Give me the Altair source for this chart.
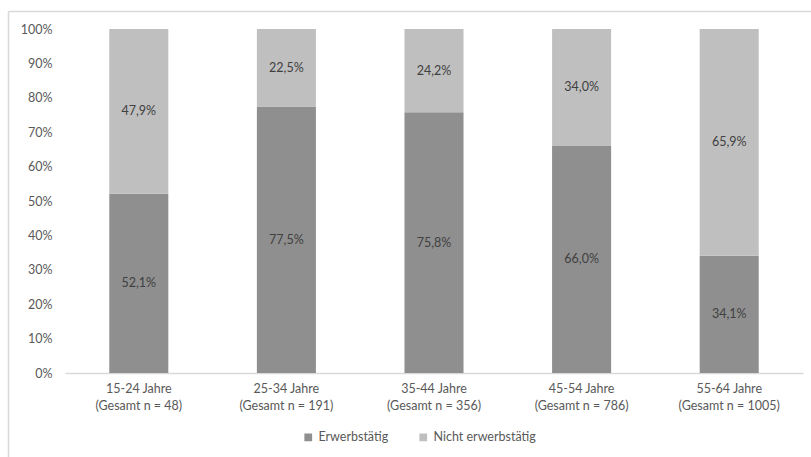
import altair as alt
import pandas as pd

# Age groups (two-line axis labels) and employment shares in percent
groups = [
    "15-24 Jahre\n(Gesamt n = 48)",
    "25-34 Jahre\n(Gesamt n = 191)",
    "35-44 Jahre\n(Gesamt n = 356)",
    "45-54 Jahre\n(Gesamt n = 786)",
    "55-64 Jahre\n(Gesamt n = 1005)",
]
series = ["Erwerbstätig", "Nicht erwerbstätig"]
erwerbstaetig = [52.1, 77.5, 75.8, 66.0, 34.1]
nicht_erwerbstaetig = [47.9, 22.5, 24.2, 34.0, 65.9]
y_ticks = [0, 10, 20, 30, 40, 50, 60, 70, 80, 90, 100]
colors = ["#8f8f8f", "#bfbfbf"]

rows = []
for g, a, b in zip(groups, erwerbstaetig, nicht_erwerbstaetig):
    rows.append({"group": g, "series": series[0], "idx": 0, "value": a})
    rows.append({"group": g, "series": series[1], "idx": 1, "value": b})
df = pd.DataFrame(rows)

FONT = "Lato"
TXT = "#595959"

x_axis = alt.Axis(
    labelAngle=0,
    labelExpr="split(datum.label, '\\n')",
    labelLineHeight=17,
    labelPadding=9,
    labelFontSize=12.5,
    labelColor=TXT,
    labelFont=FONT,
    ticks=False,
    domainColor="#d9d9d9",
    domainWidth=1.5,
)
y_axis = alt.Axis(
    values=y_ticks,
    labelExpr="datum.value + '%'",
    labelOverlap=False,
    labelBound=False,
    labelFontSize=12.5,
    labelColor=TXT,
    labelFont=FONT,
    labelPadding=13,
    ticks=False,
    domain=False,
    grid=False,
)
x_scale = alt.Scale(paddingInner=0.6, paddingOuter=0.3)
y_scale = alt.Scale(domain=[0, 100])

bars = alt.Chart(df).mark_bar().encode(
    x=alt.X("group:N", sort=groups, title=None, scale=x_scale, axis=x_axis),
    y=alt.Y("value:Q", stack="zero", title=None, scale=y_scale, axis=y_axis),
    color=alt.Color(
        "series:N",
        sort=series,
        scale=alt.Scale(domain=series, range=colors),
        legend=alt.Legend(
            title=None,
            orient="none",
            direction="horizontal",
            legendX=237,
            legendY=402,
            symbolType="square",
            symbolSize=60,
            symbolStrokeWidth=0,
            labelFontSize=12.5,
            labelColor=TXT,
            labelFont=FONT,
            columnPadding=28,
            labelOffset=4,
        ),
    ),
    order=alt.Order("idx:Q", sort="ascending"),
)

labels = (
    alt.Chart(df)
    .transform_stack(
        stack="value",
        groupby=["group"],
        as_=["y0", "y1"],
        sort=[alt.SortField("idx", order="ascending")],
    )
    .transform_calculate(
        mid="(datum.y0 + datum.y1) / 2",
        label="replace(format(datum.value, '.1f'), '.', ',') + '%'",
    )
    .mark_text(font=FONT, fontSize=12.5, color="#404040")
    .encode(
        x=alt.X("group:N", sort=groups, title=None, scale=x_scale, axis=x_axis),
        y=alt.Y("mid:Q", title=None, scale=y_scale, axis=y_axis),
        text="label:N",
    )
)

# Outer frame: only the top and left edges fall inside the page
frame_src = pd.DataFrame({"k": [0]})
frame_top = alt.Chart(frame_src).mark_rule(color="#d9d9d9", strokeWidth=1.5).encode(
    x=alt.value(-56.5), x2=alt.value(760), y=alt.value(-17.5)
)
frame_left = alt.Chart(frame_src).mark_rule(color="#d9d9d9", strokeWidth=1.5).encode(
    x=alt.value(-56.5), y=alt.value(-17.5), y2=alt.value(440)
)

chart = (
    alt.layer(frame_top, frame_left, bars, labels)
    .properties(
        width=738,
        height=344,
        padding={"left": 65, "top": 29, "right": 8, "bottom": 84},
        autosize=alt.AutoSizeParams(type="none"),
        background="white",
    )
    .configure_view(stroke=None)
)

chart.save("out.html", embed_options={"renderer": "svg", "actions": False})
